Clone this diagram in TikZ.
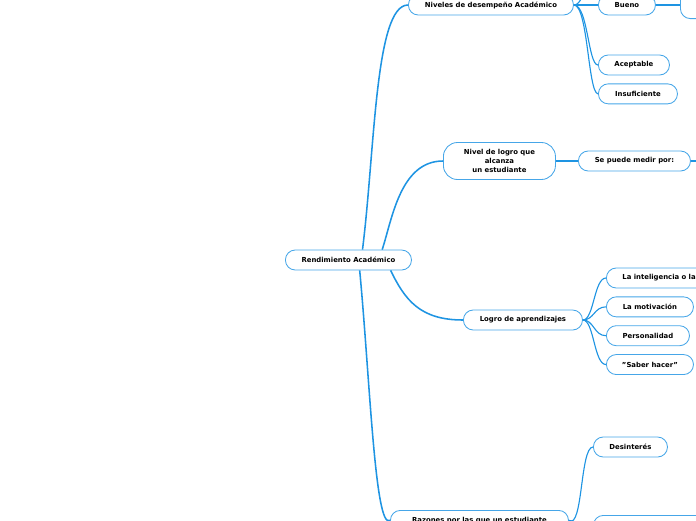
\documentclass[tikz,border=0pt]{standalone}
\usepackage{fontspec}
\setmainfont{DejaVu Sans}
\usetikzlibrary{positioning}
\definecolor{mapblue}{RGB}{30,148,226}
\definecolor{boxblue}{RGB}{70,166,232}

\begin{document}
\begin{tikzpicture}[
    x=0.025cm, y=-0.025cm,
    topic/.style={rectangle, draw=boxblue, line width=0.6pt, fill=white, rounded corners=7pt, minimum height=0.5cm, align=center, font=\fontsize{4.9}{6.4}\selectfont\bfseries, inner xsep=2pt},
    branch/.style={draw=mapblue, line width=1.1pt},
    twig/.style={draw=mapblue, line width=0.8pt},
]
\useasboundingbox (0,0) rectangle (696,520);
\clip (0,0) rectangle (696,520);

% Nodes
\node[topic, minimum width=3.15cm, anchor=west] (root) at (285,260) {Rendimiento Académico};
\node[topic, minimum width=4.125cm, anchor=west] (niveles) at (408,5) {Niveles de desempeño Académico};
\node[topic, minimum width=2.8cm, minimum height=0.925cm, rounded corners=10pt, anchor=west] (logro) at (443,161) {Nivel de logro que\\alcanza\\un estudiante};
\node[topic, minimum width=2.975cm, anchor=west] (aprend) at (463,320) {Logro de aprendizajes};
\node[topic, minimum width=4.45cm, anchor=north west] (razones) at (390,510) {Razones por las que un estudiante};

% Niveles children
\node[topic, minimum width=1.425cm, anchor=west] (bueno) at (598,5) {Bueno};
\node[topic, minimum width=1.5cm, minimum height=0.75cm, anchor=south west] (extra) at (680,19) {};
\node[topic, minimum width=1.775cm, anchor=west] (acept) at (598,65) {Aceptable};
\node[topic, minimum width=1.975cm, below=0.2cm of acept.south west, anchor=north west] (insuf) {Insuficiente};
\coordinate (upper) at (600,-50);

% Logro children
\node[topic, minimum width=2.8cm, anchor=west] (medir) at (578,161) {Se puede medir por:};
\coordinate (medirout) at (720,161);

% Aprendizajes children
\node[topic, text width=3.2cm, align=left, inner xsep=0.4cm, anchor=west] (intel) at (606,278) {La inteligencia o la};
\node[topic, minimum width=2.175cm, below=0.2cm of intel.south west, anchor=north west] (motiv) {La motivación};
\node[topic, minimum width=2.075cm, below=0.2cm of motiv.south west, anchor=north west] (person) {Personalidad};
\node[topic, minimum width=2.175cm, below=0.2cm of person.south west, anchor=north west] (saber) {"Saber hacer"};

% Razones children
\node[topic, minimum width=1.85cm, anchor=west] (desint) at (593,447) {Desinterés};
\node[topic, minimum width=3cm, anchor=north west] (otra) at (593,515) {};

% Root branches
\draw[branch] ([xshift=10] root.north) .. controls (375,150) and (375,5) .. (niveles.west);
\draw[branch] ([xshift=24] root.north) .. controls (392,220) and (400,161) .. (logro.west);
\draw[branch] ([xshift=30] root.south) .. controls (405,300) and (420,320) .. (aprend.west);
\draw[branch] ([xshift=8] root.south) .. controls (370,380) and (375,530) .. (razones.west);

% Sub branches
\draw[twig] (niveles.east) -- (bueno.west);
\draw[twig] (bueno.east) -- (extra.west |- bueno.east);
\draw[twig] (niveles.east) .. controls (588,5) and (588,65) .. (acept.west);
\draw[twig] (niveles.east) .. controls (588,5) and (588,93) .. (insuf.west);
\draw[twig] (niveles.east) .. controls (588,5) and (588,-50) .. (upper);
\draw[twig] (logro.east) -- (medir.west);
\draw[twig] (medir.east) -- (medirout);
\foreach \leaf in {intel, motiv, person, saber}
  \draw[twig] (aprend.east) .. controls (594,320) and ([xshift=-0.3cm]\leaf.west) .. (\leaf.west);
\draw[twig] (razones.east) .. controls (583,530) and (580,447) .. (desint.west);
\draw[twig] (razones.east) -- (otra.west);

\end{tikzpicture}
\end{document}
